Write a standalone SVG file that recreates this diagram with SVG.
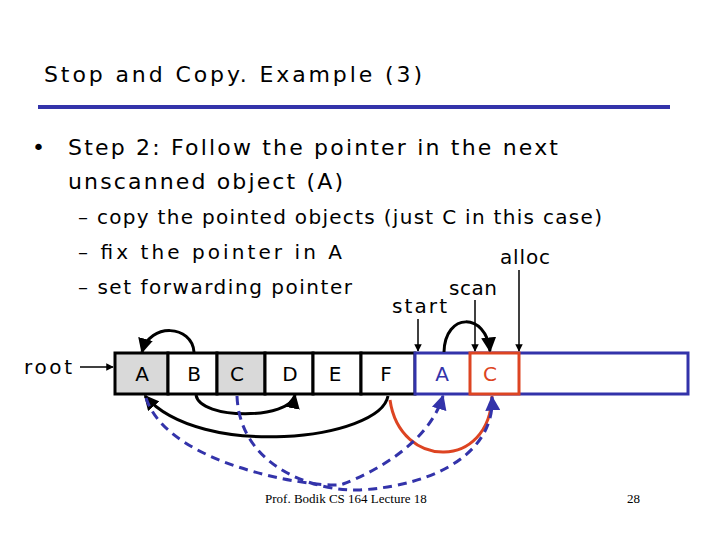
<svg xmlns="http://www.w3.org/2000/svg" width="720" height="540" viewBox="0 0 720 540">
<defs>
<marker id="ab" viewBox="0 0 10 10" refX="9" refY="5" markerWidth="5" markerHeight="5" orient="auto"><path d="M0,0L10,5L0,10z" fill="#000"/></marker>
<marker id="au" viewBox="0 0 10 10" refX="9" refY="5" markerWidth="5" markerHeight="5" orient="auto"><path d="M0,0L10,5L0,10z" fill="#3333aa"/></marker>
</defs>
<style>
text{font-family:"DejaVu Sans","Liberation Sans",sans-serif;fill:#000}
.t{font-size:22px}
.b{font-size:22px}
.s{font-size:20px}
.c{font-size:20px;text-anchor:middle}
.cell{fill:#fff;stroke:#000;stroke-width:3}
.g{fill:#d9d9d9}
.k{fill:none;stroke:#000;stroke-width:3}
.thin{fill:none;stroke:#000;stroke-width:1.5}
.d{fill:none;stroke:#3333aa;stroke-width:3;stroke-dasharray:9,6}
.r{fill:none;stroke:#dd4422;stroke-width:3}
.f{font-family:"Liberation Serif",serif;font-size:13px}
</style>
<text x="44" y="82" class="t" textLength="378" lengthAdjust="spacing">Stop and Copy. Example (3)</text>
<line x1="38" y1="107" x2="670" y2="107" stroke="#3333aa" stroke-width="4"/>
<text x="32" y="155" class="b">•</text>
<text x="68" y="155" class="b" textLength="490" lengthAdjust="spacing">Step 2: Follow the pointer in the next</text>
<text x="68" y="189" class="b" textLength="275" lengthAdjust="spacing">unscanned object (A)</text>
<text x="78" y="224" class="s" textLength="524" lengthAdjust="spacing">– copy the pointed objects (just C in this case)</text>
<text x="78" y="259" class="s" textLength="264" lengthAdjust="spacing">– fix the pointer in A</text>
<text x="78" y="294" class="s" textLength="274" lengthAdjust="spacing">– set forwarding pointer</text>
<text x="500" y="264" class="s" textLength="50" lengthAdjust="spacing">alloc</text>
<text x="449" y="295" class="s" textLength="48" lengthAdjust="spacing">scan</text>
<text x="392" y="313" class="s" textLength="55" lengthAdjust="spacing">start</text>
<text x="24" y="374" class="s" textLength="48" lengthAdjust="spacing">root</text>
<g id="heap">
<rect x="115" y="353" width="53" height="41" class="cell g"/>
<rect x="168" y="353" width="49" height="41" class="cell"/>
<rect x="217" y="353" width="48" height="41" class="cell g"/>
<rect x="265" y="353" width="48" height="41" class="cell"/>
<rect x="313" y="353" width="48" height="41" class="cell"/>
<rect x="361" y="353" width="54" height="41" class="cell"/>
<rect x="415" y="353" width="273" height="41" fill="#fff" stroke="#3333aa" stroke-width="3"/>
<rect x="470" y="353" width="49" height="41" fill="#fff" stroke="#dd4422" stroke-width="3"/>
<text x="142" y="381" class="c">A</text>
<text x="194" y="381" class="c">B</text>
<text x="237" y="381" class="c">C</text>
<text x="290" y="381" class="c">D</text>
<text x="335" y="381" class="c">E</text>
<text x="386" y="381" class="c">F</text>
<text x="442" y="381" class="c" style="fill:#3333aa">A</text>
<text x="490" y="381" class="c" style="fill:#dd4422">C</text>
</g>
<g id="connectors">
<line x1="80" y1="367" x2="113" y2="367" class="thin" marker-end="url(#ab)"/>
<line x1="418" y1="319" x2="418" y2="351" class="thin" marker-end="url(#ab)"/>
<line x1="475" y1="300" x2="475" y2="351" class="thin" marker-end="url(#ab)"/>
<line x1="519" y1="270" x2="519" y2="351" class="thin" marker-end="url(#ab)"/>
<path d="M194,352 C192,325 150,322 142,352" class="k" marker-end="url(#ab)"/>
<path d="M444,352 C445,312 486,312 490,351" class="k" marker-end="url(#ab)"/>
<path d="M196,395 C200,420 290,420 295,395" class="k" marker-end="url(#ab)"/>
<path d="M388,396 C380,440 200,460 145,396" class="k" marker-end="url(#ab)"/>
<path d="M390,400 C400,470 490,470 492,396" class="r"/>
<path d="M146,398 C170,470 330,490 343,484 C380,470 430,440 443,396" class="d" marker-end="url(#au)"/>
<path d="M237,396 C240,470 320,492 360,490 C440,485 495,450 492,397" class="d" marker-end="url(#au)"/>
</g>
<text x="265" y="503" class="f">Prof. Bodik  CS 164  Lecture 18</text>
<text x="627" y="503" class="f">28</text>
</svg>
